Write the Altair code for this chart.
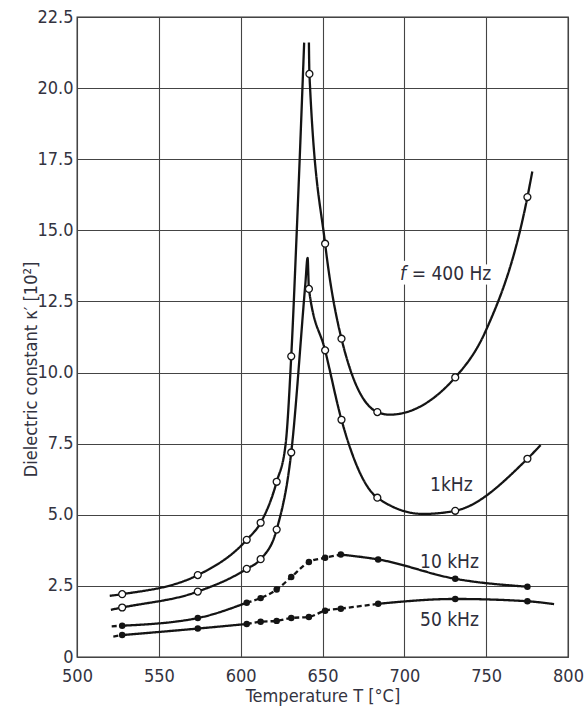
import altair as alt
import pandas as pd

FONT = "'Liberation Sans Narrow', 'DejaVu Sans Condensed', 'Arial Narrow', Roboto, sans-serif"

# ---------------- data ----------------
# measured points (temperature in °C, dielectric constant in 10^2)
T_OPEN = [527.6, 573.8, 603.7, 612.2, 622.0, 630.9, 642.0, 651.6, 661.6, 683.5, 731.1, 775.2]
K_400HZ = [2.21, 2.88, 4.12, 4.72, 6.16, 10.57, 20.5, 14.53, 11.19, 8.61, 9.83, 16.17]
T_1KHZ = [527.6, 573.8, 603.7, 612.2, 622.0, 630.9, 641.7, 651.6, 661.6, 683.5, 731.1, 775.2]
K_1KHZ = [1.74, 2.30, 3.10, 3.44, 4.48, 7.19, 12.94, 10.78, 8.34, 5.60, 5.14, 6.97]
T_FILLED = [527.6, 573.8, 603.7, 612.2, 622.0, 630.9, 641.7, 651.6, 661.2, 684.0, 731.1, 775.2]
K_10KHZ = [1.10, 1.37, 1.91, 2.07, 2.37, 2.81, 3.34, 3.49, 3.60, 3.43, 2.75, 2.47]
K_50KHZ = [0.77, 1.00, 1.16, 1.24, 1.27, 1.37, 1.41, 1.63, 1.70, 1.87, 2.04, 1.96]

# extra vertices of the drawn curves (curve ends, peak tips, minima)
EXTRA_400_LEFT_T = [520.0, 627.5, 634.3, 638.8]
EXTRA_400_LEFT_K = [2.15, 7.5, 15.0, 21.6]
EXTRA_400_RIGHT_T = [641.7, 691.0, 750.0, 778.2]
EXTRA_400_RIGHT_K = [21.6, 8.52, 11.5, 17.07]
PEAK_400_SPLIT = 640.0          # the 400 Hz curve is drawn as two branches
EXTRA_1K_T = [520.7, 639.5, 640.9, 711.5, 783.3]
EXTRA_1K_K = [1.66, 13.1, 14.03, 5.03, 7.45]
EXTRA_10K_T = [521.2]
EXTRA_10K_K = [1.08]
EXTRA_50K_T = [522.2, 791.5]
EXTRA_50K_K = [0.72, 1.86]

# temperature intervals where the curve is drawn dash-dotted
DASHED_10K = [(520.0, 527.6), (603.7, 661.2)]
DASHED_50K = [(520.0, 527.6), (603.7, 684.0)]

LABEL_TEXT = ["f", "= 400 Hz", "1kHz", "10 kHz", "50 kHz"]
LABEL_T = [697.3, 704.5, 715.7, 709.6, 709.6]
LABEL_K = [13.27, 13.27, 5.82, 3.13, 1.08]
LABEL_ITALIC = [True, False, False, False, False]

X_TICKS = [500, 550, 600, 650, 700, 750, 800]
Y_TICKS = [0, 2.5, 5, 7.5, 10, 12.5, 15, 17.5, 20, 22.5]

# ---------------- build tables ----------------
def merged(t1, k1, t2, k2, lo=-1e9, hi=1e9):
    pts = [(t, k) for t, k in zip(t1 + t2, k1 + k2) if lo <= t <= hi]
    pts.sort()
    return pts


def split_segments(name, pts, dashed=()):
    rows = []
    segs = []
    cur_style, cur = None, []
    for (t0, k0), (t1, k1) in zip(pts[:-1], pts[1:]):
        mid = 0.5 * (t0 + t1)
        style = "dashed" if any(a <= mid <= b for a, b in dashed) else "solid"
        if style != cur_style:
            if cur:
                segs.append((cur_style, cur))
            cur_style, cur = style, [(t0, k0)]
        cur.append((t1, k1))
    if cur:
        segs.append((cur_style, cur))
    for i, (style, seg) in enumerate(segs):
        for j, (t, k) in enumerate(seg):
            rows.append({"seg": f"{name}-{i}", "style": style, "T": t, "K": k, "o": j})
    return rows


line_rows = []
line_rows += split_segments("400L", merged(T_OPEN, K_400HZ, EXTRA_400_LEFT_T, EXTRA_400_LEFT_K, hi=PEAK_400_SPLIT))
line_rows += split_segments("400R", merged(T_OPEN, K_400HZ, EXTRA_400_RIGHT_T, EXTRA_400_RIGHT_K, lo=PEAK_400_SPLIT))
line_rows += split_segments("1k", merged(T_1KHZ, K_1KHZ, EXTRA_1K_T, EXTRA_1K_K))
line_rows += split_segments("10k", merged(T_FILLED, K_10KHZ, EXTRA_10K_T, EXTRA_10K_K), DASHED_10K)
line_rows += split_segments("50k", merged(T_FILLED, K_50KHZ, EXTRA_50K_T, EXTRA_50K_K), DASHED_50K)
lines_df = pd.DataFrame(line_rows)

open_df = pd.DataFrame({"T": T_OPEN + T_1KHZ, "K": K_400HZ + K_1KHZ})
filled_df = pd.DataFrame({"T": T_FILLED + T_FILLED, "K": K_10KHZ + K_50KHZ})
labels_df = pd.DataFrame({"text": LABEL_TEXT, "T": LABEL_T, "K": LABEL_K, "italic": LABEL_ITALIC})

# ---------------- chart ----------------
x_scale = alt.Scale(domain=[500, 800], nice=False, zero=False)
y_scale = alt.Scale(domain=[0, 22.5], nice=False, zero=True)

x_enc = alt.X("T:Q", scale=x_scale, axis=alt.Axis(
    values=X_TICKS, title="Temperature T  [°C]", labelPadding=10, titlePadding=2,
    labelFlush=False))
y_enc = alt.Y("K:Q", scale=y_scale, axis=alt.Axis(
    values=Y_TICKS, title="Dielectric  constant κ′ [10²]",
    labelExpr="datum.value == 0 ? '0' : format(datum.value, '.1f')",
    labelPadding=4, titleX=-41, titleY=352, titleBaseline="alphabetic",
    labelFlush=False))

lines = alt.Chart(lines_df).mark_line(
    interpolate="monotone", color="#141414", strokeWidth=2.3
).encode(
    x=x_enc, y=y_enc, detail="seg:N", order="o:Q",
    strokeDash=alt.StrokeDash("style:N", legend=None,
                              scale=alt.Scale(domain=["solid", "dashed"], range=[[1, 0], [5, 3]])),
)

open_pts = alt.Chart(open_df).mark_point(
    shape="circle", filled=True, fill="white", stroke="#141414", strokeWidth=1.3,
    size=48, opacity=1, fillOpacity=1, strokeOpacity=1
).encode(x="T:Q", y="K:Q")

filled_pts = alt.Chart(filled_df).mark_circle(
    color="#141414", size=42, opacity=1
).encode(x="T:Q", y="K:Q")


def text_layer(italic, halo):
    kw = dict(font=FONT, fontSize=19, align="left", baseline="alphabetic",
              fontStyle="italic" if italic else "normal")
    if halo:
        kw.update(stroke="white", strokeWidth=9, color="white")
    else:
        kw.update(color="#2e2e3a")
    return alt.Chart(labels_df[labels_df["italic"] == italic]).mark_text(**kw).encode(
        x="T:Q", y="K:Q", text="text:N")


chart = alt.layer(
    text_layer(True, True), text_layer(False, True),
    lines, open_pts, filled_pts,
    text_layer(True, False), text_layer(False, False),
).properties(
    width=491, height=640,
    autosize=alt.AutoSizeParams(type="none"),
    padding={"left": 77, "top": 17, "right": 16, "bottom": 56},
).configure_view(
    stroke="#333333", strokeWidth=1.3
).configure_axis(
    labelFont=FONT, labelFontSize=18, labelColor="#333340",
    titleFont=FONT, titleFontSize=18, titleColor="#333340", titleFontWeight="normal",
    gridColor="#444444", gridWidth=1.1, gridOpacity=1,
    domain=False, ticks=False,
)

chart.save("out.html", embed_options={"renderer": "svg", "actions": False})
